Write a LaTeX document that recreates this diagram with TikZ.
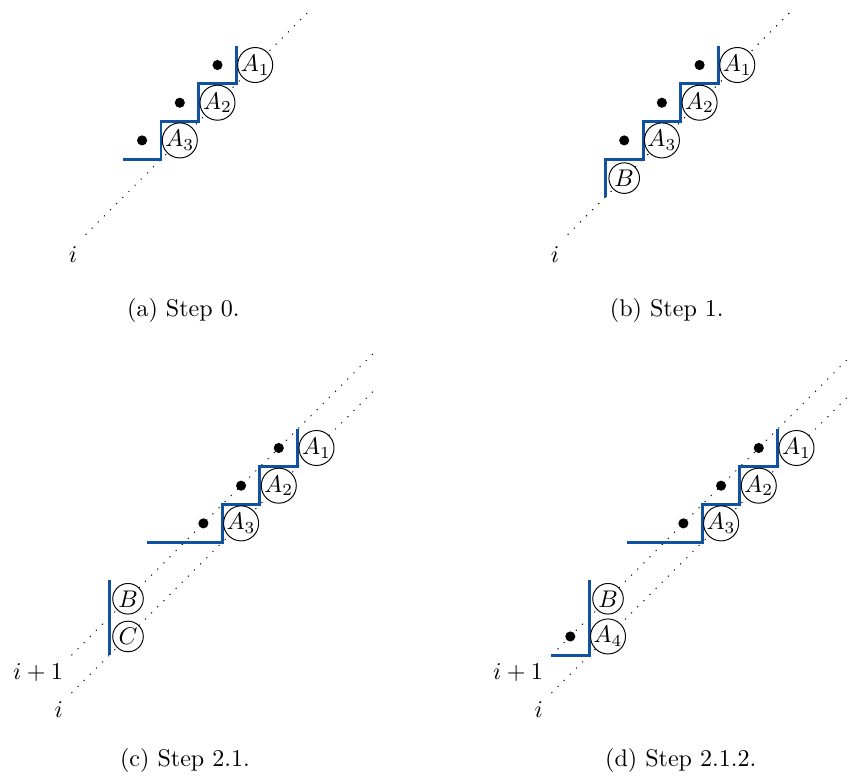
\documentclass[tikz,border=0pt]{standalone}
\definecolor{stairblue}{RGB}{16,82,160}
\begin{document}
\begin{tikzpicture}[x=0.55cm, y=0.55cm,
  stair/.style={stairblue, line width=1.2pt},
  diag/.style={dash pattern=on 0.5pt off 3.1pt},
  job/.style={draw, circle, fill=white, inner sep=0pt, minimum size=12.7pt},
  dot/.style={circle, fill=black, inner sep=0pt, minimum size=4.2pt}]
  \useasboundingbox (-4.27,-16.57) rectangle (18.28,4.225);
  % Step 0
  \begin{scope}
    \draw[diag] (-2,-2) coordinate (a-i) -- (4,4);
    \node[below left, yshift=-1.5pt] (a-il) at (a-i) {$i$};
    \draw[stair] (-1,0) -- (0,0) -- (0,1) -- (1,1) -- (1,2) -- (2,2) -- (2,3);
    \node[dot] (a-d1) at (1.5,2.5) {};
    \node[dot] (a-d2) at (0.5,1.5) {};
    \node[dot] (a-d3) at (-0.5,0.5) {};
    \node[job] (a-A1) at (2.5,2.5) {$A_1$};
    \node[job] (a-A2) at (1.5,1.5) {$A_2$};
    \node[job] (a-A3) at (0.5,0.5) {$A_3$};
  \end{scope}
  % Step 1
  \begin{scope}[shift={(12.79,0)}]
    \draw[diag] (-2,-2) coordinate (b-i) -- (4,4);
    \node[below left, yshift=-1.5pt] (b-il) at (b-i) {$i$};
    \draw[stair] (-1,-1) -- (-1,0) -- (0,0) -- (0,1) -- (1,1) -- (1,2) -- (2,2) -- (2,3);
    \node[dot] (b-d1) at (1.5,2.5) {};
    \node[dot] (b-d2) at (0.5,1.5) {};
    \node[dot] (b-d3) at (-0.5,0.5) {};
    \node[job] (b-A1) at (2.5,2.5) {$A_1$};
    \node[job] (b-A2) at (1.5,1.5) {$A_2$};
    \node[job] (b-A3) at (0.5,0.5) {$A_3$};
    \node[job] (b-B) at (-0.5,-0.5) {$B$};
  \end{scope}
  % Step 2.1
  \begin{scope}[shift={(1.626,-10.16)}]
    \draw[diag] (-4,-3) coordinate (c-j) -- (4,5);
    \draw[diag] (-4,-4) coordinate (c-i) -- (4,4);
    \node[below left] (c-jl) at (c-j) {$i+1$};
    \node[below left] (c-il) at (c-i) {$i$};
    \draw[stair] (-2,0) -- (0,0) -- (0,1) -- (1,1) -- (1,2) -- (2,2) -- (2,3);
    \draw[stair] (-3,-1) -- (-3,-3);
    \node[dot] (c-d1) at (1.5,2.5) {};
    \node[dot] (c-d2) at (0.5,1.5) {};
    \node[dot] (c-d3) at (-0.5,0.5) {};
    \node[job] (c-A1) at (2.5,2.5) {$A_1$};
    \node[job] (c-A2) at (1.5,1.5) {$A_2$};
    \node[job] (c-A3) at (0.5,0.5) {$A_3$};
    \node[job] (c-B) at (-2.5,-1.5) {$B$};
    \node[job] (c-C) at (-2.5,-2.5) {$C$};
  \end{scope}
  % Step 2.1.2
  \begin{scope}[shift={(14.36,-10.16)}]
    \draw[diag] (-4,-3) coordinate (d-j) -- (4,5);
    \draw[diag] (-4,-4) coordinate (d-i) -- (4,4);
    \node[below left] (d-jl) at (d-j) {$i+1$};
    \node[below left] (d-il) at (d-i) {$i$};
    \draw[stair] (-2,0) -- (0,0) -- (0,1) -- (1,1) -- (1,2) -- (2,2) -- (2,3);
    \draw[stair] (-3,-1) -- (-3,-3) -- (-4,-3);
    \node[dot] (d-d1) at (1.5,2.5) {};
    \node[dot] (d-d2) at (0.5,1.5) {};
    \node[dot] (d-d3) at (-0.5,0.5) {};
    \node[dot] (d-d4) at (-3.5,-2.5) {};
    \node[job] (d-A1) at (2.5,2.5) {$A_1$};
    \node[job] (d-A2) at (1.5,1.5) {$A_2$};
    \node[job] (d-A3) at (0.5,0.5) {$A_3$};
    \node[job] (d-B) at (-2.5,-1.5) {$B$};
    \node[job] (d-A4) at (-2.5,-2.5) {$A_4$};
  \end{scope}
  % Captions
  \node[anchor=base] (cap-a) at (0.595,-4.175) {(a) Step 0.};
  \node[anchor=base] (cap-b) at (13.42,-4.175) {(b) Step 1.};
  \node[anchor=base] (cap-c) at (0.637,-16.11) {(c) Step 2.1.};
  \node[anchor=base] (cap-d) at (13.79,-16.11) {(d) Step 2.1.2.};
\end{tikzpicture}
\end{document}
